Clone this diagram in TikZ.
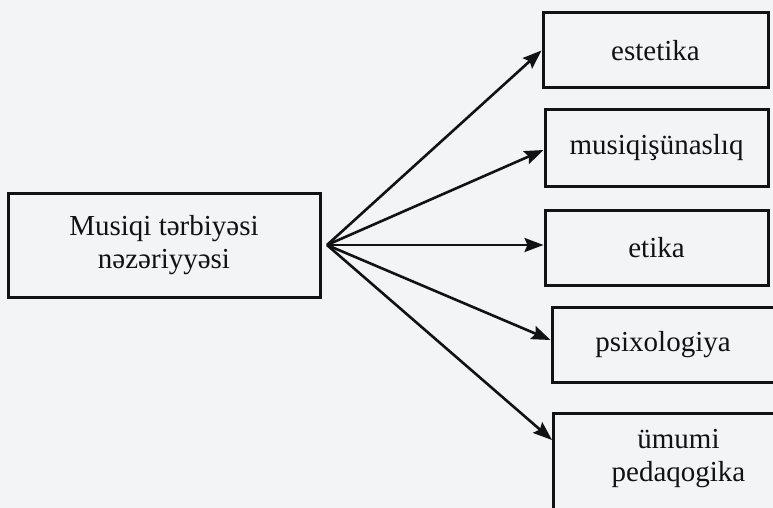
\documentclass[tikz,border=0pt]{standalone}
\usepackage{fontspec}
\setmainfont{Liberation Serif}
\usetikzlibrary{arrows.meta,calc}
\definecolor{paper}{RGB}{243,244,246}
\definecolor{ink}{RGB}{18,18,20}
\tikzset{
  box/.style={draw=ink, line width=3pt, inner sep=0pt, text=ink,
    font=\fontsize{29}{33}\selectfont, align=center},
  link/.style={draw=ink, line width=2.6pt, -{Stealth[length=19pt,width=14pt,inset=3pt]}}
}
\begin{document}
\begin{tikzpicture}[x=1pt,y=-1pt]
\useasboundingbox (0,0) rectangle (773,508);
\fill[paper] (0,0) rectangle (773,508);
\clip (0,0) rectangle (773,508);
\node[box, minimum width=312pt, minimum height=104pt] (m) at (164,245) {Musiqi tərbiyəsi\\nəzəriyyəsi};
\coordinate (hub) at (327,245);
\node[box, minimum width=225pt, minimum height=75pt] (e) at (655.5,50.5) {estetika};
\node[box, minimum width=223pt, minimum height=76pt] (mu) at (656.5,148) {musiqişünaslıq};
\node[box, minimum width=223pt, minimum height=75pt] (et) at (656.5,247.5) {etika};
\node[box, minimum width=222pt, minimum height=75pt] (p) at (663,344.5) {psixologiya};
\node[box, anchor=north west, text width=250pt, text height=35pt, text depth=75pt] (u) at (552,412) {ümumi\\pedaqogika};
\draw[link] (hub) -- (e.west);
\draw[link] (hub) -- ($(mu.west)+(0,2)$);
\draw[link] (hub) -- ($(et.west)+(0,-2.5)$);
\draw[link] (hub) -- ($(p.west)+(0,-4.5)$);
\draw[link] (hub) -- ($(u.north west)+(0,28)$);
\end{tikzpicture}
\end{document}
